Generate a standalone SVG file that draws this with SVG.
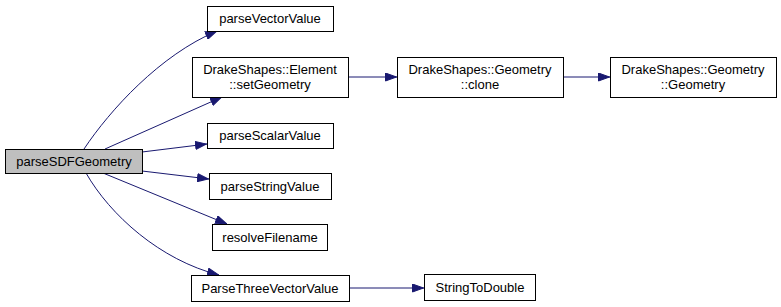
<svg xmlns="http://www.w3.org/2000/svg" width="781" height="307" viewBox="0 0 781 307">
  <style>
    .node rect { fill: #ffffff; stroke: #000000; stroke-width: 1; }
    .node.root rect { fill: #bfbfbf; }
    .node text { font-family: "Liberation Sans", Arial, sans-serif; font-size: 13px; fill: #000000; text-anchor: middle; }
    .edge { fill: none; stroke: #191970; stroke-width: 1; marker-end: url(#arrow); }
  </style>
  <defs>
    <marker id="arrow" viewBox="0 0 12 9" refX="12" refY="4.5" markerWidth="12" markerHeight="9" markerUnits="userSpaceOnUse" orient="auto">
      <path d="M0.5,0.5 L11.5,4.5 L0.5,8.5 Z" fill="#191970" stroke="#191970" stroke-width="1"/>
    </marker>
  </defs>

  <rect width="781" height="307" fill="#ffffff"/>

  <g id="connectors">
    <path class="edge" d="M84,149 C110,110 160,55 217,31"/>
    <path class="edge" d="M105,149 L222,97"/>
    <path class="edge" d="M142,152 L207,144"/>
    <path class="edge" d="M142,171 L209,179"/>
    <path class="edge" d="M103,173 L227,224"/>
    <path class="edge" d="M86,173 C110,215 160,260 219,275"/>
    <path class="edge" d="M348,77 L397,77"/>
    <path class="edge" d="M563,77 L610,77"/>
    <path class="edge" d="M349,288 L424,288"/>
  </g>

  <g id="parseSDFGeometry" class="node root">
    <rect x="5.5" y="149.5" width="137" height="24"/>
    <text x="74" y="166">parseSDFGeometry</text>
  </g>
  <g id="parseVectorValue" class="node">
    <rect x="207.5" y="6.5" width="126" height="25"/>
    <text x="270" y="23">parseVectorValue</text>
  </g>
  <g id="setGeometry" class="node">
    <rect x="192.5" y="57.5" width="156" height="40"/>
    <text x="270" y="74">DrakeShapes::Element</text>
    <text x="270" y="89">::setGeometry</text>
  </g>
  <g id="parseScalarValue" class="node">
    <rect x="207.5" y="123.5" width="126" height="25"/>
    <text x="270" y="140">parseScalarValue</text>
  </g>
  <g id="parseStringValue" class="node">
    <rect x="209.5" y="173.5" width="122" height="26"/>
    <text x="270" y="191">parseStringValue</text>
  </g>
  <g id="resolveFilename" class="node">
    <rect x="212.5" y="224.5" width="115" height="26"/>
    <text x="270" y="242">resolveFilename</text>
  </g>
  <g id="ParseThreeVectorValue" class="node">
    <rect x="191.5" y="275.5" width="158" height="26"/>
    <text x="270" y="293">ParseThreeVectorValue</text>
  </g>
  <g id="clone" class="node">
    <rect x="397.5" y="57.5" width="166" height="40"/>
    <text x="480" y="74">DrakeShapes::Geometry</text>
    <text x="480" y="89">::clone</text>
  </g>
  <g id="GeometryCtor" class="node">
    <rect x="610.5" y="57.5" width="166" height="40"/>
    <text x="693" y="74">DrakeShapes::Geometry</text>
    <text x="693" y="89">::Geometry</text>
  </g>
  <g id="StringToDouble" class="node">
    <rect x="424.5" y="274.5" width="111" height="26"/>
    <text x="480" y="292">StringToDouble</text>
  </g>
</svg>
